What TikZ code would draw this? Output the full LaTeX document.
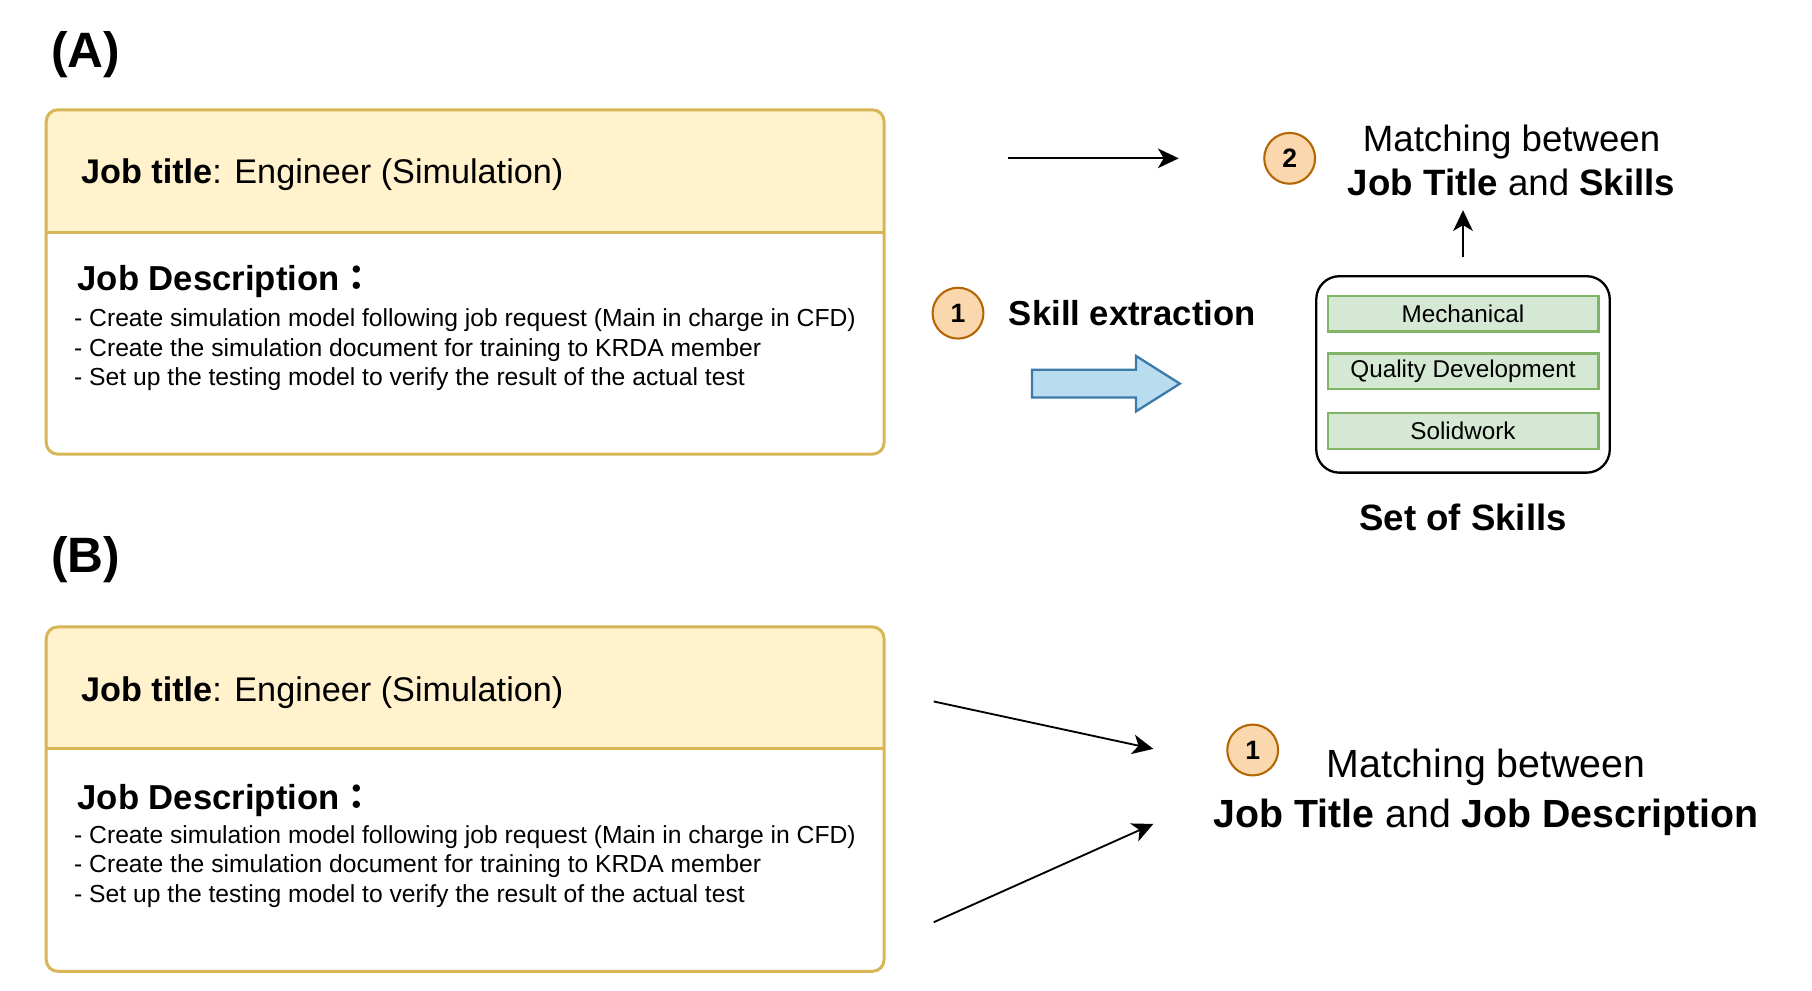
\documentclass[tikz,border=0pt]{standalone}
\usepackage{fontspec}
\setmainfont{Liberation Sans}
\newfontfamily\cjk{Noto Sans CJK JP}
\usepackage{xcolor}
\usetikzlibrary{positioning,arrows.meta,backgrounds}
\definecolor{hdrfill}{HTML}{FFF2CC}
\definecolor{hdrline}{HTML}{D6B656}
\definecolor{skfill}{HTML}{D5E8D4}
\definecolor{skline}{HTML}{82B366}
\definecolor{numfill}{HTML}{FAD7AC}
\definecolor{numline}{HTML}{B46504}
\definecolor{arrfill}{HTML}{B9DCEF}
\definecolor{arrline}{HTML}{3B7BAA}

\begin{document}
\begin{tikzpicture}[
        x=1pt, y=-1pt,
        >={Stealth[length=18pt,width=17pt,inset=5pt]},
        jobframe/.style={rectangle, draw=hdrline, line width=2.6pt, rounded corners=10pt, outer sep=0pt, minimum width=725pt, minimum height=298pt},
        hdr/.style={fill=hdrfill, rounded corners=10pt},
        divider/.style={draw=hdrline, line width=2.6pt},
        titletext/.style={anchor=west, inner sep=0pt, font=\fontsize{29.6}{36}\selectfont},
        deschead/.style={anchor=west, inner sep=0pt, font=\bfseries\fontsize{30}{36}\selectfont},
        desctext/.style={anchor=north west, inner sep=0pt, align=left, font=\fontsize{21.35}{25.5}\selectfont},
        panel/.style={anchor=west, inner sep=0pt, font=\bfseries\fontsize{43}{50}\selectfont},
        numcirc/.style={circle, draw=numline, fill=numfill, line width=1.8pt, minimum size=44pt, inner sep=0pt, font=\bfseries\fontsize{23}{27}\selectfont},
        skill/.style={rectangle, draw=skline, fill=skfill, line width=2.2pt, minimum width=234pt, minimum height=31pt, inner sep=0pt, font=\fontsize{21}{25}\selectfont},
        skillset/.style={rectangle, draw, line width=2pt, rounded corners=20pt, minimum width=254pt, minimum height=170pt},
        conn/.style={->, line width=1.6pt},
        bigarrow/.style={draw=arrline, fill=arrfill, line width=2pt}
    ]
    \useasboundingbox (0,0) rectangle (1568,857);

    % (A) job title, description and skills
    \node[panel] (labA) at (44,47) {(A)};
    \node[jobframe] (jobA) at (402.5,244) {};
    \coordinate (divA) at (40,201);
    \begin{scope}[on background layer]
        \fill[hdr] (jobA.west |- divA) -- (jobA.north west) -- (jobA.north east) -- (jobA.east |- divA);
    \end{scope}
    \draw[divider] (jobA.west |- divA) -- (jobA.east |- divA);
    \node[titletext] (ttlA) at (70,151) {\textbf{Job title}: Engineer (Simulation)};
    \node[deschead] (hdA) at (67,244) {Job Description{\cjk ：}};
    \node[desctext] (descA) at (64,267) {- Create simulation model following job request (Main in charge in CFD)\\
        - Create the simulation document for training to KRDA member\\
        - Set up the testing model to verify the result of the actual test};

    \coordinate (inA) at (872,137);
    \coordinate (outA) at (1020,137);
    \draw[conn] (inA) -- (outA);
    \node[numcirc] (num2) at (1116,137) {2};
    \node[align=center, inner sep=0pt, font=\fontsize{31.7}{38}\selectfont] (matchA) at (1308,139) {Matching between\\\textbf{Job Title} and \textbf{Skills}};

    \node[numcirc] (num1) at (829,271) {1};
    \node[anchor=west, inner sep=0pt, font=\bfseries\fontsize{30}{36}\selectfont, right=21pt of num1] (extract) {Skill extraction};
    \coordinate (blk) at (893,332);
    \draw[bigarrow] (blk) ++(0,-12) -- ++(90,0) -- ++(0,-12) -- ++(38,24) -- ++(-38,24) -- ++(0,-12) -- ++(-90,0) -- cycle;

    \node[skillset] (skills) at (1266,324) {};
    \node[skill] (sk1) at (1266,271.5) {Mechanical};
    \node[skill, below=16.5pt of sk1] (sk2) {Quality Development};
    \node[skill, below=18.5pt of sk2] (sk3) {Solidwork};
    \node[below=26pt of skills, inner sep=0pt, font=\bfseries\fontsize{31.7}{38}\selectfont] (setlbl) {Set of Skills};
    \draw[conn, shorten >=12pt] ([yshift=16pt]skills.north) -- (skills.north |- matchA.south);

    % (B) job title and job description
    \node[panel] (labB) at (44,484) {(B)};
    \node[jobframe] (jobB) at (402.5,691.5) {};
    \coordinate (divB) at (40,648);
    \begin{scope}[on background layer]
        \fill[hdr] (jobB.west |- divB) -- (jobB.north west) -- (jobB.north east) -- (jobB.east |- divB);
    \end{scope}
    \draw[divider] (jobB.west |- divB) -- (jobB.east |- divB);
    \node[titletext] (ttlB) at (70,599) {\textbf{Job title}: Engineer (Simulation)};
    \node[deschead] (hdB) at (67,693) {Job Description{\cjk ：}};
    \node[desctext] (descB) at (64,714) {- Create simulation model following job request (Main in charge in CFD)\\
        - Create the simulation document for training to KRDA member\\
        - Set up the testing model to verify the result of the actual test};

    \coordinate (inB1) at (808,607);
    \coordinate (outB1) at (998,648);
    \coordinate (inB2) at (808,798);
    \coordinate (outB2) at (998,713);
    \draw[conn] (inB1) -- (outB1);
    \draw[conn] (inB2) -- (outB2);
    \node[numcirc] (num1b) at (1084,649) {1};
    \node[align=center, inner sep=0pt, font=\fontsize{34}{43}\selectfont] (matchB) at (1286,685.4) {Matching between\\\textbf{Job Title} and \textbf{Job Description}};
\end{tikzpicture}
\end{document}
